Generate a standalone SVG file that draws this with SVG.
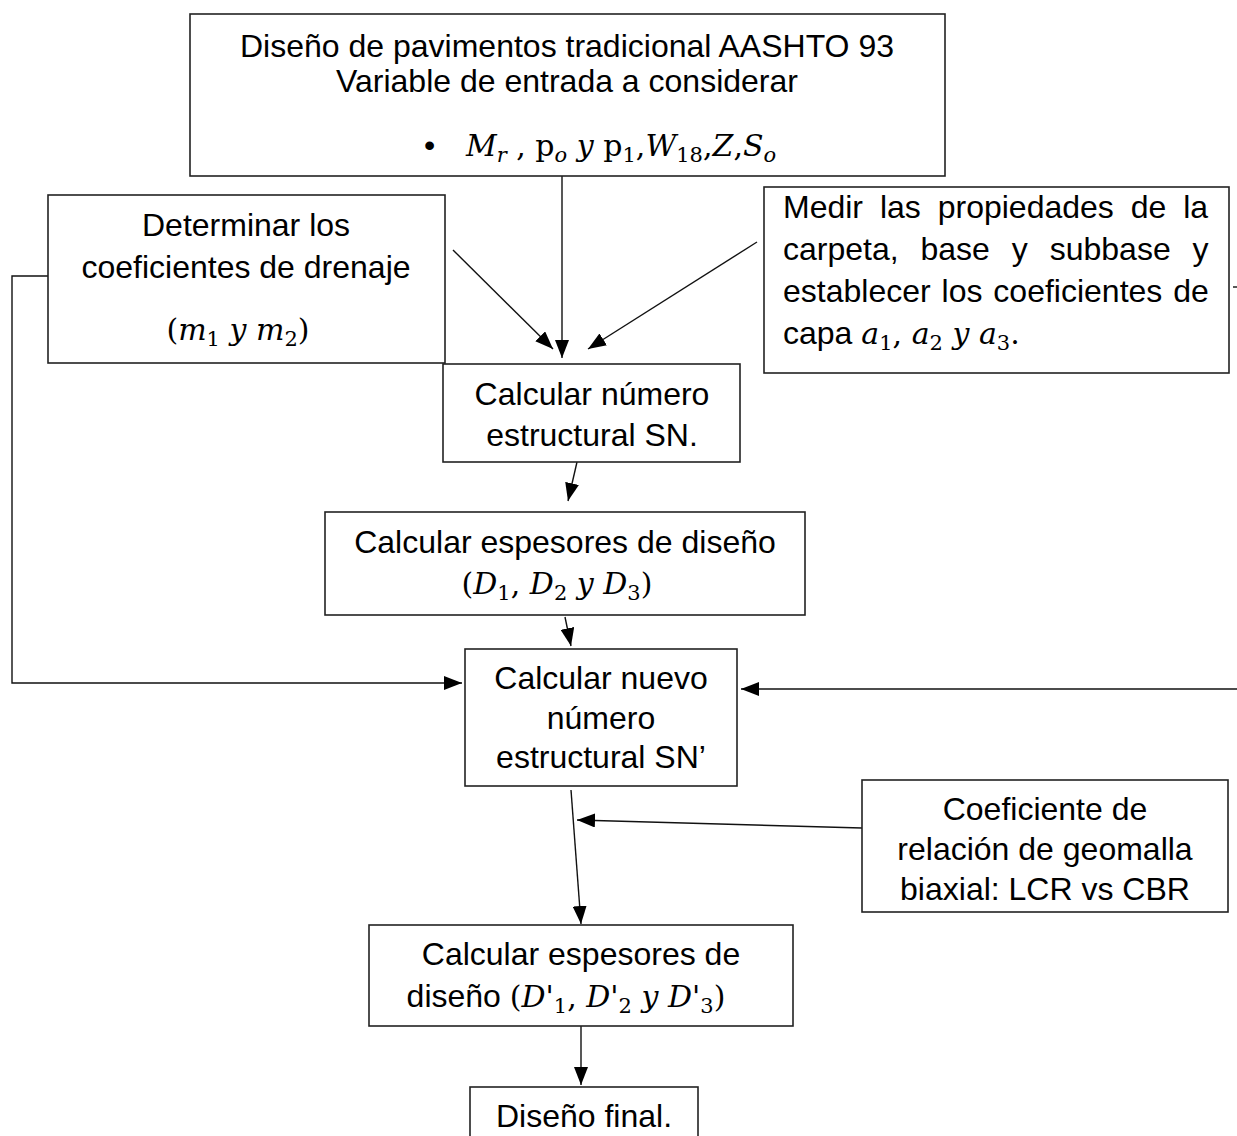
<svg xmlns="http://www.w3.org/2000/svg" width="1237" height="1136" viewBox="0 0 1237 1136">
<style>
.box{fill:#fff;stroke:#222;stroke-width:1.6}
.t{font-family:"Liberation Sans",Arial,sans-serif;font-size:32px;fill:#000}
.c{text-anchor:middle}
.m{font-family:"DejaVu Serif","Liberation Serif",serif;font-style:italic;font-size:30px}
.mu{font-family:"DejaVu Serif","Liberation Serif",serif;font-style:normal;font-size:30px}
.s{font-size:21px}
.ln{fill:none;stroke:#111;stroke-width:1.4}
</style>
<defs>
<marker id="ah" viewBox="0 0 18 14" refX="18" refY="7" markerWidth="18" markerHeight="14" markerUnits="userSpaceOnUse" orient="auto">
<path d="M0,0 L18,7 L0,14 z" fill="#000"/>
</marker>
</defs>
<rect width="1237" height="1136" fill="#fff"/>

<g id="connectors">
<line class="ln" x1="562" y1="176" x2="562" y2="358" marker-end="url(#ah)"/>
<line class="ln" x1="453" y1="250" x2="553" y2="349" marker-end="url(#ah)"/>
<line class="ln" x1="757" y1="242" x2="588" y2="349" marker-end="url(#ah)"/>
<line class="ln" x1="577" y1="462" x2="568" y2="501" marker-end="url(#ah)"/>
<line class="ln" x1="565" y1="617" x2="571" y2="646" marker-end="url(#ah)"/>
<polyline class="ln" points="48,276 12,276 12,683 462,683" marker-end="url(#ah)"/>
<line class="ln" x1="1237" y1="689" x2="741" y2="689" marker-end="url(#ah)"/>
<line class="ln" x1="1233" y1="287" x2="1237" y2="287"/>
<line class="ln" x1="571" y1="790" x2="581" y2="924" marker-end="url(#ah)"/>
<line class="ln" x1="862" y1="828" x2="577" y2="820" marker-end="url(#ah)"/>
<line class="ln" x1="581" y1="1026" x2="581" y2="1085" marker-end="url(#ah)"/>
</g>

<g id="n_top">
<rect class="box" x="190" y="14" width="755" height="162"/>
<text class="t c" x="567" y="57">Diseño de pavimentos tradicional AASHTO 93</text>
<text class="t c" x="567" y="92">Variable de entrada a considerar</text>
<text class="t" x="424" y="156">•</text>
<text x="466" y="156"><tspan class="m">M</tspan><tspan class="m s" dy="6">r</tspan><tspan class="mu" dy="-6"> , p</tspan><tspan class="m s" dy="6">o</tspan><tspan class="m" dy="-6"> y </tspan><tspan class="mu">p</tspan><tspan class="mu s" dy="6">1</tspan><tspan class="mu" dy="-6">,</tspan><tspan class="m">W</tspan><tspan class="mu s" dy="6">18</tspan><tspan class="mu" dy="-6">,</tspan><tspan class="m">Z</tspan><tspan class="mu">,</tspan><tspan class="m">S</tspan><tspan class="m s" dy="6">o</tspan></text>
</g>

<g id="n_drenaje">
<rect class="box" x="48" y="195" width="397" height="168"/>
<text class="t c" x="246" y="236">Determinar los</text>
<text class="t c" x="246" y="278">coeficientes de drenaje</text>
<text class="c" x="238" y="340"><tspan class="mu">(</tspan><tspan class="m">m</tspan><tspan class="mu s" dy="6">1</tspan><tspan class="m" dy="-6"> y m</tspan><tspan class="mu s" dy="6">2</tspan><tspan class="mu" dy="-6">)</tspan></text>
</g>

<g id="n_medir">
<rect class="box" x="764" y="187" width="465" height="186"/>
<text class="t" x="783" y="218" style="word-spacing:8px">Medir las propiedades de la</text>
<text class="t" x="783" y="260" style="word-spacing:13px">carpeta, base y subbase y</text>
<text class="t" x="783" y="302" style="word-spacing:2px">establecer los coeficientes de</text>
<text x="783" y="344"><tspan class="t">capa </tspan><tspan class="m">a</tspan><tspan class="mu s" dy="6">1</tspan><tspan class="mu" dy="-6">, </tspan><tspan class="m">a</tspan><tspan class="mu s" dy="6">2</tspan><tspan class="m" dy="-6"> y a</tspan><tspan class="mu s" dy="6">3</tspan><tspan class="mu" dy="-6">.</tspan></text>
</g>

<g id="n_sn">
<rect class="box" x="443" y="364" width="297" height="98"/>
<text class="t c" x="592" y="405">Calcular número</text>
<text class="t c" x="592" y="446">estructural SN.</text>
</g>

<g id="n_espesores">
<rect class="box" x="325" y="512" width="480" height="103"/>
<text class="t c" x="565" y="553">Calcular espesores de diseño</text>
<text class="c" x="557" y="594"><tspan class="mu">(</tspan><tspan class="m">D</tspan><tspan class="mu s" dy="6">1</tspan><tspan class="mu" dy="-6">, </tspan><tspan class="m">D</tspan><tspan class="mu s" dy="6">2</tspan><tspan class="m" dy="-6"> y D</tspan><tspan class="mu s" dy="6">3</tspan><tspan class="mu" dy="-6">)</tspan></text>
</g>

<g id="n_nuevo">
<rect class="box" x="465" y="649" width="272" height="137"/>
<text class="t c" x="601" y="689">Calcular nuevo</text>
<text class="t c" x="601" y="729">número</text>
<text class="t c" x="601" y="768">estructural SN’</text>
</g>

<g id="n_coef">
<rect class="box" x="862" y="780" width="366" height="132"/>
<text class="t c" x="1045" y="820">Coeficiente de</text>
<text class="t c" x="1045" y="860">relación de geomalla</text>
<text class="t c" x="1045" y="900">biaxial: LCR vs CBR</text>
</g>

<g id="n_espesores2">
<rect class="box" x="369" y="925" width="424" height="101"/>
<text class="t c" x="581" y="965">Calcular espesores de</text>
<text class="c" x="566" y="1007"><tspan class="t">diseño </tspan><tspan class="mu">(</tspan><tspan class="m">D'</tspan><tspan class="mu s" dy="6">1</tspan><tspan class="mu" dy="-6">, </tspan><tspan class="m">D'</tspan><tspan class="mu s" dy="6">2</tspan><tspan class="m" dy="-6"> y D'</tspan><tspan class="mu s" dy="6">3</tspan><tspan class="mu" dy="-6">)</tspan></text>
</g>

<g id="n_final">
<rect class="box" x="470" y="1087" width="228" height="60"/>
<text class="t c" x="584" y="1127">Diseño final.</text>
</g>
</svg>
